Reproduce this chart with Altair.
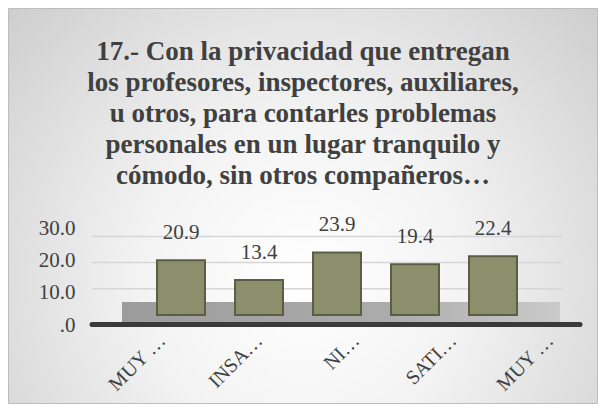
import altair as alt
import pandas as pd

# ---- data ----
categories = ["MUY …", "INSA…", "NI…", "SATI…", "MUY …"]
values = [20.9, 13.4, 23.9, 19.4, 22.4]
y_ticks = [0, 10, 20, 30]
grid_values = [10, 20, 30]
title_lines = [
    "17.- Con la privacidad que entregan",
    "los profesores, inspectores, auxiliares,",
    "u otros, para contarles problemas",
    "personales en un lugar tranquilo y",
    "cómodo, sin otros compañeros…",
]

df = pd.DataFrame({"idx": list(range(len(categories))), "value": values})
df["label"] = [f"{v:.1f}" for v in values]
grid_df = pd.DataFrame({"g": grid_values})
one = pd.DataFrame({"a": [0]})

FONT = "Liberation Serif"
TXT = "#404040"
W, H = 488, 97
PAD = {"left": 84, "top": 220, "right": 18, "bottom": 79}

label_array = "[" + ",".join(f"'{c}'" for c in categories) + "]"

# scales
bar_x = alt.Scale(domain=list(range(5)), range=[50, 440], paddingInner=0.385, paddingOuter=0.1925)
bar_y = alt.Scale(domain=[0, 30], range=[87, 8.4], nice=False, zero=True)
lab_x = alt.Scale(domain=list(range(5)), range=[21.5, 506.5], paddingInner=0, paddingOuter=0)
ax_y = alt.Scale(domain=[0, 30], nice=False)

bg = alt.Chart(one).mark_rect(
    fill=alt.RadialGradient(
        gradient="radial",
        x1=0.5, y1=0.62, r1=0.0,
        x2=0.5, y2=0.62, r2=0.78,
        stops=[
            alt.GradientStop(color="#ffffff", offset=0),
            alt.GradientStop(color="#f3f3f3", offset=0.35),
            alt.GradientStop(color="#c4c4c4", offset=1),
        ],
    ),
    stroke="#bdbdbd", strokeWidth=1,
).encode(
    x=alt.value(-PAD["left"] + 0.5), x2=alt.value(W + PAD["right"] - 0.5),
    y=alt.value(-PAD["top"] + 0.5), y2=alt.value(H + PAD["bottom"] - 0.5),
)

floor = alt.Chart(one).mark_rect(
    fill=alt.LinearGradient(
        gradient="linear", x1=0, y1=0, x2=1, y2=0,
        stops=[
            alt.GradientStop(color="#9c9c9c", offset=0),
            alt.GradientStop(color="#ababab", offset=0.6),
            alt.GradientStop(color="#cacaca", offset=1),
        ],
    )
).encode(x=alt.value(30), x2=alt.value(468), y=alt.value(74), y2=alt.value(96))

grid = alt.Chart(grid_df).mark_rule(color="#d6d6d6", strokeWidth=1.5).encode(
    y=alt.Y("g:Q", scale=bar_y, axis=None),
    x=alt.value(0), x2=alt.value(470),
)

axes_layer = alt.Chart(df).mark_text(text="", opacity=0).encode(
    x=alt.X("idx:O", scale=lab_x, title=None, sort=None,
            axis=alt.Axis(labelExpr=f"{label_array}[datum.value]", labelAngle=-45,
                          labelAlign="right", labelBaseline="middle", labelPadding=12,
                          labelFont=FONT, labelFontSize=20, labelColor=TXT,
                          domain=False, ticks=False, grid=False, zindex=2)),
    y=alt.Y("value:Q", scale=ax_y, title=None,
            axis=alt.Axis(values=y_ticks, orient="left",
                          labelExpr="datum.value == 0 ? '.0' : format(datum.value, '.1f')",
                          labelFont=FONT, labelFontSize=21, labelColor=TXT, labelPadding=17,
                          domain=False, ticks=False, grid=False, zindex=2)),
)

bars = alt.Chart(df).mark_bar(
    fill="#8b8f6c", stroke="#5a5e44", strokeWidth=2, opacity=1
).encode(
    x=alt.X("idx:O", scale=bar_x, axis=None),
    y=alt.Y("value:Q", scale=bar_y, axis=None),
)

texts = alt.Chart(df).mark_text(
    font=FONT, fontSize=21, color=TXT, baseline="middle", dy=-27
).encode(
    x=alt.X("idx:O", scale=bar_x, axis=None),
    y=alt.Y("value:Q", scale=bar_y, axis=None),
    text="label:N",
)

base_line = alt.Chart(one).mark_rule(color="#3a3a3a", strokeWidth=5, strokeCap="round").encode(
    x=alt.value(0), x2=alt.value(W), y=alt.value(96.5)
)

chart = alt.layer(bg, floor, grid, axes_layer, bars, texts, base_line).resolve_scale(
    x="independent", y="independent"
).properties(
    width=W, height=H,
    padding=PAD,
    autosize=alt.AutoSizeParams(type="none"),
    background="#ffffff",
    title=alt.TitleParams(
        text=title_lines, font=FONT, fontSize=27, fontWeight="bold", color=TXT,
        lineHeight=31, anchor="middle", frame="group", dx=-33, offset=-182,
    ),
).configure_view(stroke=None)

chart.save("out.html", embed_options={"renderer": "svg", "actions": False})
